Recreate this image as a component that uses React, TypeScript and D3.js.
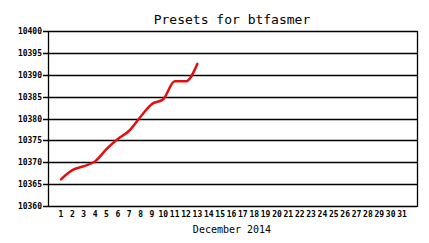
import React from "react";
import * as d3 from "d3";

const days: number[] = [1, 2, 3, 4, 5, 6, 7, 8, 9, 10, 11, 12, 13];
const values: number[] = [10366.1, 10368.2, 10369.1, 10370.2, 10373.0, 10375.3, 10377.2, 10380.4, 10383.3, 10384.4, 10388.5, 10388.5, 10392.5];
const yTicks: number[] = [10360, 10365, 10370, 10375, 10380, 10385, 10390, 10395, 10400];
const xTickLabels: number[] = Array.from({ length: 31 }, (_, i) => i + 1);
const title = "Presets for btfasmer";
const xTitle = "December 2014";

export default function App() {
  const W = 429, H = 243;
  const left = 48, right = 417, top = 31, bottom = 206;
  const x = d3.scaleLinear().domain([1, 31]).range([61, 402]);
  const y = d3.scaleLinear().domain([10360, 10400]).range([bottom, top]);
  const line = d3
    .line<number>()
    .x((_, i) => x(days[i]))
    .y((v) => y(v))
    .curve(d3.curveMonotoneX);
  const mono = "'DejaVu Sans Mono', monospace";
  return (
    <svg width={W} height={H} style={{ position: "absolute", left: 0, top: 0, background: "#fff" }}>
      <rect x={0} y={0} width={W} height={H} fill="#fff" />
      {yTicks.map((t) => (
        <g key={t}>
          <line x1={43} x2={right} y1={Math.round(y(t)) + 0.5} y2={Math.round(y(t)) + 0.5} stroke="#000" strokeWidth={1.3} />
          <text x={42} y={Math.round(y(t)) + 3} textAnchor="end" fontFamily={mono} fontWeight="bold" fontSize={8} fill="#000">
            {t}
          </text>
        </g>
      ))}
      <line x1={left + 0.5} x2={left + 0.5} y1={top} y2={bottom + 1} stroke="#000" strokeWidth={1.3} />
      <line x1={right + 0.5} x2={right + 0.5} y1={top} y2={bottom + 1} stroke="#000" strokeWidth={1.3} />
      {xTickLabels.map((d) => (
        <text key={d} x={x(d)} y={217} textAnchor="middle" fontFamily={mono} fontWeight="bold" fontSize={8} fill="#000">
          {d}
        </text>
      ))}
      <path d={line(values) || ""} fill="none" stroke="#e01010" strokeWidth={2.5} strokeLinejoin="round" strokeLinecap="round" />
      <text x={232} y={24} textAnchor="middle" fontFamily={mono} fontSize={13} fill="#000">
        {title}
      </text>
      <text x={232} y={233} textAnchor="middle" fontFamily={mono} fontSize={10} fill="#000">
        {xTitle}
      </text>
    </svg>
  );
}
